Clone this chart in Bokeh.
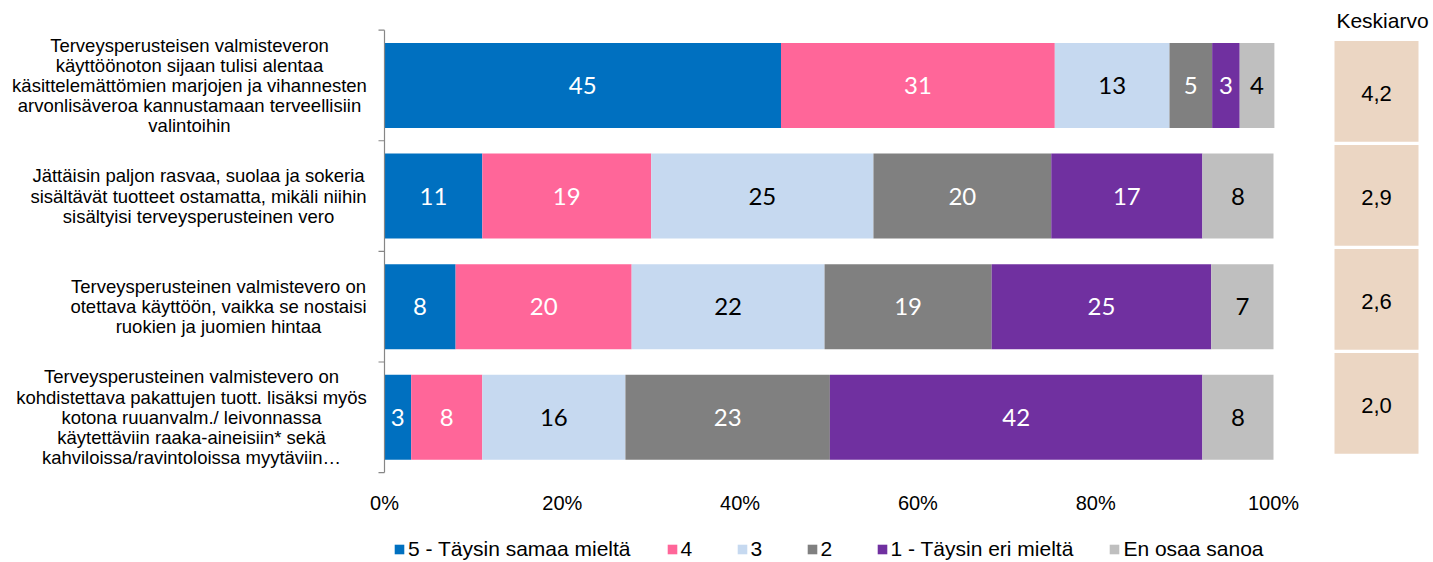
from bokeh.plotting import figure
from bokeh.layouts import column
from bokeh.models import (ColumnDataSource, Range1d, FixedTicker, PrintfTickFormatter,
                          Legend, LegendItem)
from bokeh.core.properties import value
from bokeh.embed import file_html
from bokeh.resources import INLINE

# ---------------- data ----------------
categories = [
    "Terveysperusteisen valmisteveron\nkäyttöönoton sijaan tulisi alentaa\nkäsittelemättömien marjojen ja vihannesten\narvonlisäveroa kannustamaan terveellisiin\nvalintoihin",
    "Jättäisin paljon rasvaa, suolaa ja sokeria\nsisältävät tuotteet ostamatta, mikäli niihin\nsisältyisi terveysperusteinen vero",
    "Terveysperusteinen valmistevero on\notettava käyttöön, vaikka se nostaisi\nruokien ja juomien hintaa",
    "Terveysperusteinen valmistevero on\nkohdistettava pakattujen tuott. lisäksi myös\nkotona ruuanvalm./ leivonnassa\nkäytettäviin raaka-aineisiin* sekä\nkahviloissa/ravintoloissa myytäviin…",
]
series_names = ["5 - Täysin samaa mieltä", "4", "3", "2", "1 - Täysin eri mieltä", "En osaa sanoa"]
s5 = [44.6, 11.0, 8.0, 3.0]
s4 = [30.8, 19.0, 19.8, 8.0]
s3 = [12.9, 25.0, 21.7, 16.1]
s2 = [4.8, 20.0, 18.8, 23.0]
s1 = [3.1, 17.0, 24.7, 41.9]
s_eos = [3.9, 8.0, 7.0, 8.0]
means = [4.2, 2.9, 2.6, 2.0]
tick_values = [0, 20, 40, 60, 80, 100]
mean_header = "Keskiarvo"

series_values = [s5, s4, s3, s2, s1, s_eos]
series_colors = ["#0070C0", "#FF6699", "#C6D9F0", "#808080", "#7030A0", "#BFBFBF"]
label_colors = ["white", "white", "black", "white", "white", "black"]

# ---------------- layout constants (pixels) ----------------
W = 1433
H_MAIN = 516
H_LEG = 46
FRAME_H = 486
X0 = 384.0            # pixel of 0 %
PXP = 8.89            # pixels per percent
ROW0 = 86.0           # pixel of first row centre
ROWP = 112.0          # pixels per row

def px_x(px):
    return (px - X0) / PXP

def px_y(py):
    return (py - ROW0) / ROWP

p = figure(width=W, height=H_MAIN, output_backend="svg", toolbar_location=None,
           x_range=Range1d(px_x(0), px_x(W)),
           y_range=Range1d(px_y(FRAME_H), px_y(0)),
           y_axis_location=None, min_border_left=0, min_border_right=0,
           min_border_top=0, min_border_bottom=H_MAIN - FRAME_H)
p.outline_line_color = None
p.xgrid.visible = False
p.ygrid.visible = False
p.background_fill_color = "white"
p.border_fill_color = "white"

# legend strip (its bars share the same sources but lie outside its visible range)
pl = figure(width=W, height=H_LEG, output_backend="svg", toolbar_location=None,
            x_range=Range1d(0, 1), y_range=Range1d(100, 101),
            x_axis_location=None, y_axis_location=None,
            min_border_left=0, min_border_right=0, min_border_top=0, min_border_bottom=0)
pl.outline_line_color = None
pl.xgrid.visible = False
pl.ygrid.visible = False

rows = list(range(len(categories)))

# ---------------- stacked bars ----------------
left = [0.0] * len(rows)
leg_renderers = []
for name, vals, col, lcol in zip(series_names, series_values, series_colors, label_colors):
    right = [l + v for l, v in zip(left, vals)]
    src = ColumnDataSource(dict(
        y=rows, left=left, right=right,
        mid=[(l + r) / 2 for l, r in zip(left, right)],
        lab=[str(int(round(v))) for v in vals]))
    p.hbar(y="y", left="left", right="right", height=86 / ROWP, source=src,
           fill_color=col, line_color=None)
    leg_renderers.append(pl.hbar(y="y", left="left", right="right", height=0.5, source=src,
                                 fill_color=col, line_color=None))
    p.text(x="mid", y="y", text="lab", source=src, text_align="center",
           text_baseline="middle", text_color=lcol, text_font=value("Lato"),
           text_font_size="24px")
    left = right

# ---------------- vertical axis line with ticks ----------------
bounds = [i - 0.5 for i in rows] + [rows[-1] + 0.5]
p.segment(x0=[0], y0=[bounds[0]], x1=[0], y1=[bounds[-1]], line_color="#868686", line_width=1.2)
p.segment(x0=[-6 / PXP] * len(bounds), y0=bounds, x1=[0] * len(bounds), y1=bounds,
          line_color="#868686", line_width=1.2)

# ---------------- category labels ----------------
label_centres_px = [189, 198, 218, 191]
p.text(x=[px_x(c) for c in label_centres_px], y=rows, text=categories,
       text_align="center", text_baseline="middle", text_font=value("Liberation Sans"),
       text_font_size="18.5px", text_line_height=0.96, text_color="black")

# ---------------- mean panel ----------------
box_tops_px = [40 + 105.3 * k for k in rows]
box_h = 104.0
bx0, bx1 = px_x(1333), px_x(1419)
p.quad(left=[bx0] * len(rows), right=[bx1] * len(rows),
       top=[px_y(t) for t in box_tops_px], bottom=[px_y(t + box_h) for t in box_tops_px],
       fill_color="#EBD6C3", line_color="white", line_width=2)
p.text(x=[(bx0 + bx1) / 2] * len(rows), y=[px_y(t + box_h / 2 + 2) for t in box_tops_px],
       text=[f"{m:.1f}".replace(".", ",") for m in means],
       text_align="center", text_baseline="middle", text_font=value("Liberation Sans"),
       text_font_size="22px", text_color="black")
p.text(x=[px_x(1382)], y=[px_y(20)], text=[mean_header], text_align="center",
       text_baseline="middle", text_font=value("Liberation Sans"), text_font_size="21px",
       text_color="black")

# ---------------- x axis ----------------
xa = p.xaxis[0]
xa.ticker = FixedTicker(ticks=tick_values)
xa.formatter = PrintfTickFormatter(format="%d%%")
xa.axis_line_color = None
xa.major_tick_line_color = None
xa.minor_tick_line_color = None
xa.major_label_standoff = 5
xa.major_label_text_font = "Liberation Sans"
xa.major_label_text_font_size = "20px"
xa.major_label_text_color = "black"

# ---------------- legend ----------------
legend = Legend(items=[LegendItem(label=n, renderers=[r]) for n, r in zip(series_names, leg_renderers)],
                orientation="horizontal", location=(393, 1),
                glyph_width=12, glyph_height=12, label_standoff=3, spacing=35,
                padding=0, margin=0, border_line_color=None, background_fill_alpha=0,
                label_text_font="Liberation Sans", label_text_font_size="21px",
                label_text_color="black", label_height=20)
pl.add_layout(legend, "center")

open("out.html", "w").write(file_html(column(p, pl), INLINE))
